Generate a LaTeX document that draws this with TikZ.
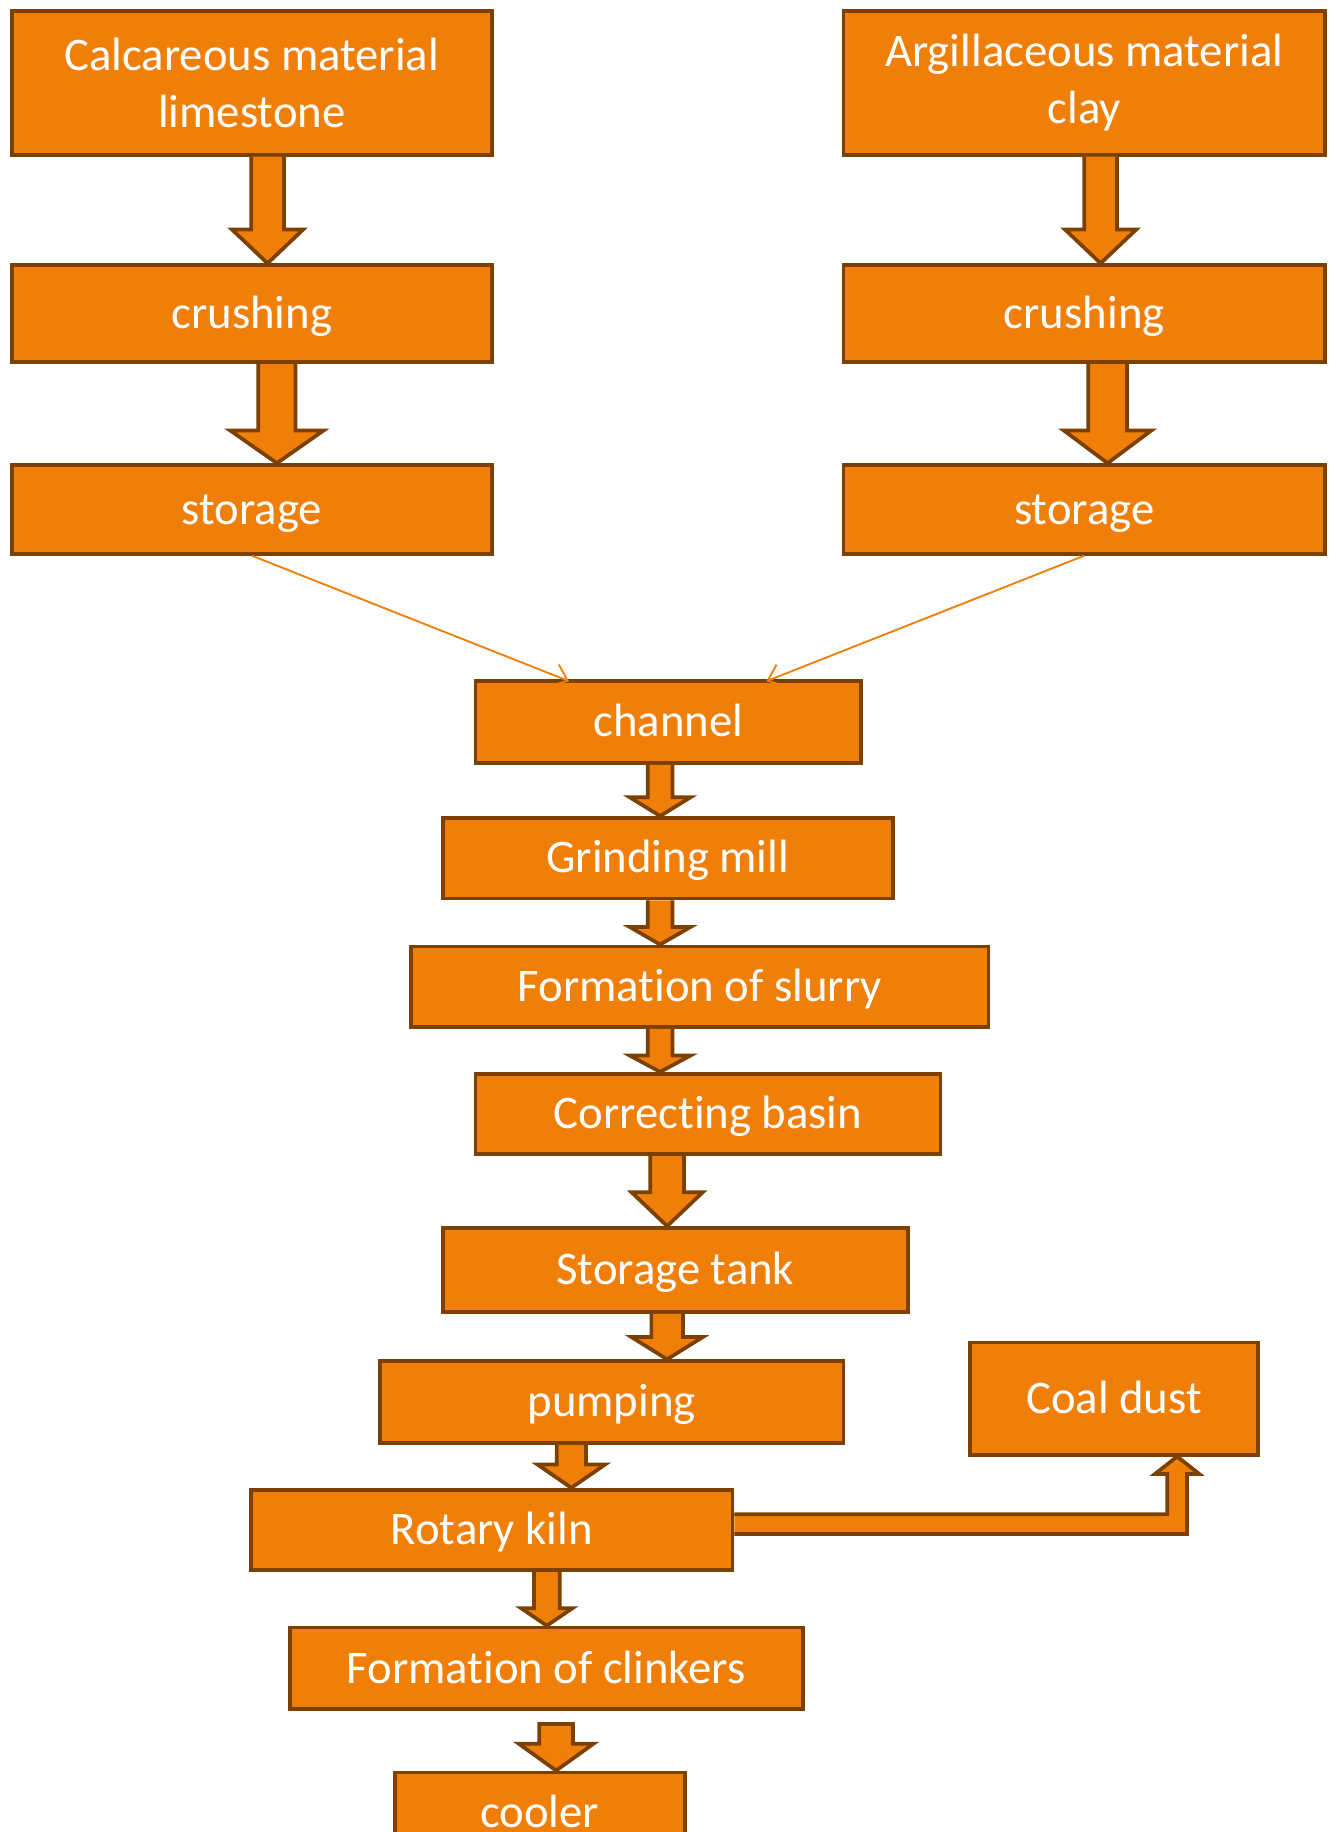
\documentclass[tikz,border=0pt]{standalone}
\usepackage{fontspec}
\setmainfont{Carlito}[Ligatures=NoCommon]
\usepackage{xcolor}
\usepackage{tikz}
\usetikzlibrary{calc}
\usetikzlibrary{arrows.meta}

\definecolor{boxorange}{RGB}{240,127,10}
\definecolor{boxbrown}{RGB}{124,65,0}

\tikzset{
  stage/.style={draw=boxbrown,fill=boxorange,line width=1.6pt,text=white,
    font=\fontsize{20}{24.4}\selectfont,align=center,inner sep=0pt},
  onerow/.style={stage,text height=16pt,text depth=3.5pt},
  blockarr/.style={draw=boxbrown,fill=boxorange,line width=1.6pt},
  feed/.style={draw=boxorange,line width=0.8pt,-{Straight Barb[length=6pt,width=10pt]}}
}

% block arrow pointing down: from, to, x, half shaft, half head, head length (px)
\newcommand{\downblk}[6]{%
  \draw[blockarr] let \p1=(#1.south), \p2=(#2.north), \p3=(#3,0) in
    (\x3-#4*0.5pt,\y1) -- (\x3-#4*0.5pt,\y2+#6*0.5pt) -- (\x3-#5*0.5pt,\y2+#6*0.5pt)
    -- (\x3,\y2) -- (\x3+#5*0.5pt,\y2+#6*0.5pt) -- (\x3+#4*0.5pt,\y2+#6*0.5pt)
    -- (\x3+#4*0.5pt,\y1);}

\begin{document}
\begin{tikzpicture}[x=0.5pt,y=-0.5pt]
  \useasboundingbox (0,0) rectangle (1145,1568);
  \clip (0,0) rectangle (1145,1568);

  % raw material lines
  \node[stage,minimum width=205.5pt,minimum height=61.5pt] (calc) at (215.5,71) {Calcareous material\\limestone};
  \node[stage,minimum width=206pt,minimum height=61.5pt] (argil) at (928,71) {Argillaceous material\\clay};
  \node[onerow,minimum width=205.5pt,minimum height=41.5pt] (crushL) at (215.5,268.5) {crushing};
  \node[onerow,minimum width=206pt,minimum height=41.5pt] (crushR) at (928,268.5) {crushing};
  \node[onerow,minimum width=205.5pt,minimum height=38pt] (storL) at (215.5,436) {storage};
  \node[onerow,minimum width=206pt,minimum height=38pt] (storR) at (928,436) {storage};

  % main line
  \node[onerow,minimum width=165pt,minimum height=35pt] (channel) at (572,618) {channel};
  \node[onerow,minimum width=192.5pt,minimum height=34.5pt] (grind) at (571.5,734.5) {Grinding mill};
  \node[onerow,minimum width=247pt,minimum height=34.5pt] (slurry) at (599,844.5) {Formation of slurry};
  \node[onerow,minimum width=199pt,minimum height=34.5pt] (basin) at (606,953.5) {Correcting basin};
  \node[onerow,minimum width=199pt,minimum height=36pt] (tank) at (578,1087) {Storage tank};
  \node[onerow,minimum width=198.5pt,minimum height=35pt] (pump) at (523.5,1200) {pumping};
  \node[onerow,minimum width=123.5pt,minimum height=48pt] (coal) at (953.5,1197) {Coal dust};
  \node[onerow,minimum width=206pt,minimum height=34.5pt] (kiln) at (421,1309.5) {Rotary kiln};
  \node[onerow,minimum width=219.5pt,minimum height=35pt] (clink) at (467.5,1428) {Formation of clinkers};
  \node[onerow,minimum width=124pt,minimum height=35pt] (cooler) at (462,1552) {cooler};

  \coordinate (chanL) at (487,583);
  \coordinate (chanR) at (656,583);

  % connectors
  \downblk{calc}{crushL}{229}{14}{30.5}{29}
  \downblk{crushL}{storL}{237}{16}{40}{28}
  \downblk{argil}{crushR}{942}{14}{30.5}{29}
  \downblk{crushR}{storR}{948}{16.5}{37.5}{28}
  \draw[feed] (storL.south) -- (chanL);
  \draw[feed] (storR.south) -- (chanR);
  \downblk{channel}{grind}{565}{10.5}{26}{16}
  \downblk{grind}{slurry}{565}{10.5}{26}{15}
  \downblk{slurry}{basin}{565}{10.5}{26}{14}
  \downblk{basin}{tank}{571}{14.5}{30.5}{29}
  \downblk{tank}{pump}{571}{13.5}{30.5}{19}
  \downblk{pump}{kiln}{489}{12.5}{29}{20}
  \downblk{kiln}{clink}{468}{11}{22}{15}
  \draw[blockarr] let \p1=(clink.south), \p2=(cooler.north), \p3=(476,0) in
    (\x3-7.25pt,\y1-5.5pt) -- (\x3-7.25pt,\y2+11.5pt) -- (\x3-16pt,\y2+11.5pt) -- (\x3,\y2)
    -- (\x3+16pt,\y2+11.5pt) -- (\x3+7.25pt,\y2+11.5pt) -- (\x3+7.25pt,\y1-5.5pt) -- cycle;
  \draw[blockarr] let \p1=(kiln.east), \p2=(coal.south), \p3=(1007.5,1304.5) in
    (\x1,\y3+4.25pt) -- (\x3-4.25pt,\y3+4.25pt) -- (\x3-4.25pt,\y2-7.5pt) -- (\x3-9.5pt,\y2-7.5pt)
    -- (\x3,\y2) -- (\x3+9.5pt,\y2-7.5pt) -- (\x3+4.25pt,\y2-7.5pt) -- (\x3+4.25pt,\y3-4.25pt)
    -- (\x1,\y3-4.25pt);
\end{tikzpicture}
\end{document}
